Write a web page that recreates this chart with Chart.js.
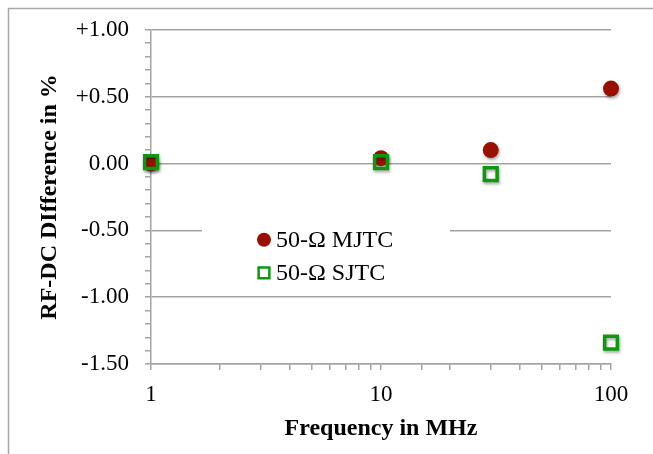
<!DOCTYPE html>
<html lang="en">
<head>
  <meta charset="UTF-8">
  <title>RF-DC Difference</title>
  <style>
    html, body {
      margin: 0;
      padding: 0;
      background: #ffffff;
      overflow: hidden;
    }
    #wrap {
      position: relative;
      width: 653px;
      height: 454px;
    }
  </style>
  <script src="https://cdn.jsdelivr.net/npm/chart.js"></script>
</head>
<body>
  <div id="wrap">
    <canvas id="chart" width="653" height="454"></canvas>
  </div>
  <script>
    // Data
    const seriesNames = ['50-\u03A9 MJTC', '50-\u03A9 SJTC'];
    const freqMHz = [1, 10, 30, 100];
    const mjtcDiff = [0.00, 0.04, 0.10, 0.56];
    const sjtcDiff = [0.01, 0.01, -0.08, -1.34];
    const xTickLabels = [1, 10, 100];
    const yMin = -1.5, yMax = 1.0;

    const red = '#9a1000';
    const green = '#0c9a0c';
    const gridGray = '#a3a3a3';
    const serif = "'Liberation Serif', 'Times New Roman', serif";

    function toPoints(xs, ys) {
      return xs.map((x, i) => ({ x: x, y: ys[i] }));
    }

    function isHalf(v) {
      return Math.abs(v * 2 - Math.round(v * 2)) < 1e-6;
    }

    // grey frame of the original figure (top and left edges)
    const framePlugin = {
      id: 'frame',
      beforeDraw(chart) {
        const ctx = chart.ctx;
        ctx.save();
        ctx.strokeStyle = '#a8a8a8';
        ctx.lineWidth = 1.5;
        ctx.beginPath();
        ctx.moveTo(8.5, chart.height);
        ctx.lineTo(8.5, 8.5);
        ctx.lineTo(chart.width, 8.5);
        ctx.stroke();
        ctx.restore();
      }
    };

    // legend sitting inside the plot area, plus drop shadows on the markers
    const innerLegend = {
      id: 'innerLegend',
      beforeDatasetsDraw(chart) {
        const ctx = chart.ctx;
        const a = chart.chartArea;
        ctx.save();
        ctx.fillStyle = '#ffffff';
        ctx.fillRect(a.left + 51, a.top + 183, 248, 78);
        ctx.font = '24px ' + serif;
        ctx.textBaseline = 'middle';
        ctx.textAlign = 'left';
        chart.data.datasets.forEach((ds, i) => {
          const y = a.top + 210 + i * 33;
          const x = a.left + 113;
          ctx.fillStyle = ds.pointStyle === 'circle' ? ds.backgroundColor : '#ffffff';
          ctx.strokeStyle = ds.borderColor;
          ctx.lineWidth = ds.pointStyle === 'circle' ? 0 : 2.5;
          Chart.helpers.drawPoint(ctx, {
            pointStyle: ds.pointStyle,
            radius: ds.pointStyle === 'circle' ? 7 : 7.6,
            rotation: 0,
            borderWidth: ds.pointStyle === 'circle' ? 0 : 2.5
          }, x, y);
          ctx.fillStyle = '#000000';
          ctx.fillText(ds.label, x + 12, y + 1);
        });
        ctx.restore();

        ctx.save();
        ctx.shadowColor = 'rgba(0,0,0,0.35)';
        ctx.shadowBlur = 3;
        ctx.shadowOffsetX = 1;
        ctx.shadowOffsetY = 2;
      },
      afterDatasetsDraw(chart) {
        chart.ctx.restore();
      }
    };

    new Chart(document.getElementById('chart'), {
      type: 'scatter',
      data: {
        datasets: [
          {
            label: seriesNames[0],
            data: toPoints(freqMHz, mjtcDiff),
            pointStyle: 'circle',
            pointRadius: 8,
            pointHoverRadius: 8,
            backgroundColor: red,
            borderColor: red,
            borderWidth: 0,
            clip: false,
            order: 2
          },
          {
            label: seriesNames[1],
            data: toPoints(freqMHz, sjtcDiff),
            pointStyle: 'rect',
            pointRadius: 9,
            pointHoverRadius: 9,
            backgroundColor: 'rgba(0,0,0,0)',
            borderColor: green,
            borderWidth: 3.5,
            clip: false,
            order: 1
          }
        ]
      },
      options: {
        responsive: false,
        animation: false,
        devicePixelRatio: 1,
        layout: {
          padding: { left: 0, right: 42, top: 29, bottom: 0 }
        },
        plugins: {
          legend: { display: false },
          tooltip: { enabled: false }
        },
        scales: {
          x: {
            type: 'logarithmic',
            min: 1,
            max: 100,
            afterFit(scale) { scale.height = 90; },
            border: { color: gridGray, width: 1.5 },
            grid: {
              color: 'rgba(0,0,0,0)',
              tickColor: gridGray,
              tickLength: 6,
              lineWidth: 1.5
            },
            ticks: {
              autoSkip: false,
              maxRotation: 0,
              padding: 11,
              color: '#000000',
              font: { family: serif, size: 23 },
              callback(value) {
                return xTickLabels.includes(value) ? String(value) : '';
              }
            },
            title: {
              display: true,
              text: 'Frequency in MHz',
              color: '#000000',
              font: { family: serif, size: 24, weight: 'bold' },
              padding: { top: 0, bottom: 11 }
            }
          },
          y: {
            min: yMin,
            max: yMax,
            afterFit(scale) { scale.width = 151; },
            border: { color: gridGray, width: 1.5 },
            grid: {
              color: (c) => (c.tick && isHalf(c.tick.value)) ? gridGray : 'rgba(0,0,0,0)',
              tickColor: gridGray,
              tickLength: 6,
              lineWidth: 1.5
            },
            ticks: {
              stepSize: 0.1,
              autoSkip: false,
              padding: 16,
              color: '#000000',
              font: { family: serif, size: 23 },
              callback(value) {
                if (!isHalf(value)) return '';
                const v = Math.round(value * 2) / 2;
                if (v > 0) return '+' + v.toFixed(2);
                if (v === 0) return '0.00';
                return v.toFixed(2);
              }
            },
            title: {
              display: true,
              text: 'RF-DC DIfference in %',
              color: '#000000',
              font: { family: serif, size: 24, weight: 'bold' },
              padding: { top: 35, bottom: 0 }
            }
          }
        }
      },
      plugins: [framePlugin, innerLegend]
    });
  </script>
</body>
</html>
